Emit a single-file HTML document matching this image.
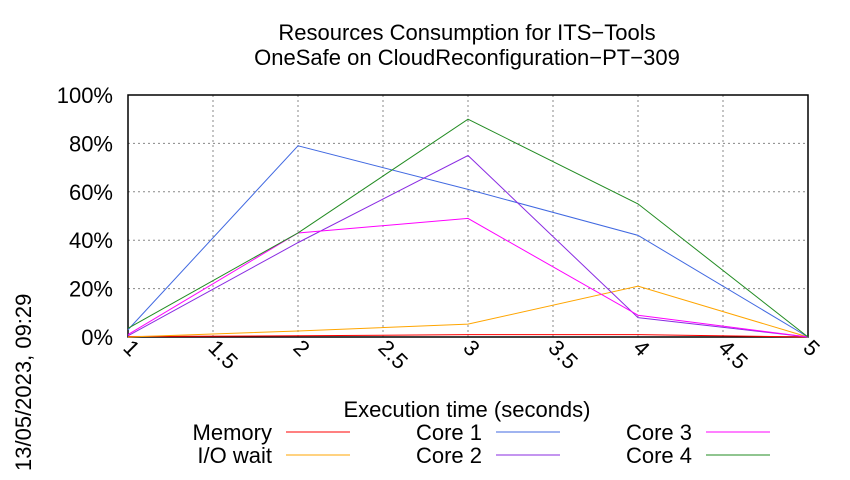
<!DOCTYPE html>
<html><head><meta charset="utf-8"><style>
body{margin:0;background:#fff;font-family:"Liberation Sans",sans-serif}
svg text{font-family:"Liberation Sans",sans-serif;fill:#000}
</style></head><body>
<svg id="chart" width="850" height="475" viewBox="0 0 850 475">
<text x="467" y="40" font-size="22" text-anchor="middle">Resources Consumption for ITS−Tools</text>
<text x="467" y="65" font-size="22" text-anchor="middle">OneSafe on CloudReconfiguration−PT−309</text>
<text x="467" y="417" font-size="22" text-anchor="middle">Execution time (seconds)</text>
<text transform="translate(31,471) rotate(-90)" font-size="22">13/05/2023, 09:29</text>
<g id="grid"></g><g id="series"></g><g id="legend"></g>
</svg>
<script>
const xTicks=[1,1.5,2,2.5,3,3.5,4,4.5,5];
const yTicks=[0,20,40,60,80,100];
const times=[1,2,3,4,5];
const names=["Memory","I/O wait","Core 1","Core 2","Core 3","Core 4"];
const colors=["#ff0000","#ffa500","#4169e1","#8a2be2","#ff00ff","#228b22"];
const memory=[0.2,0.5,1,1,0];
const iowait=[0,2.5,5.3,21,0];
const core1=[3,79,61,42,0];
const core2=[0.5,39,75,8,0];
const core3=[1,43,49,9,0];
const core4=[3.6,43,90,55,0];
const seriesData=[memory,iowait,core1,core2,core3,core4];
const L=128,R=808,T=95,B=337;
const sx=v=>L+(v-1)/(5-1)*(R-L);
const sy=v=>B-v/100*(B-T);
const NS="http://www.w3.org/2000/svg";
function mk(t,a,p){const e=document.createElementNS(NS,t);for(const k in a)e.setAttribute(k,a[k]);p.appendChild(e);return e;}
const g=document.getElementById('grid');
xTicks.forEach(v=>{
 const l=mk('line',{x1:sx(v),x2:sx(v),y1:T,y2:B,stroke:'#888','stroke-dasharray':'2,3'},g);
 
 
 const t=mk('text',{x:sx(v)-6,y:B+12,'font-size':22,transform:`rotate(45 ${sx(v)-6} ${B+12})`},g);
 t.textContent=v;
 
 
});
yTicks.forEach(v=>{
 const l=mk('line',{x1:L,x2:R,y1:sy(v),y2:sy(v),stroke:'#888','stroke-dasharray':'2,3'},g);
 
 
 const t=mk('text',{x:L-15,y:sy(v)+8,'font-size':22,'text-anchor':'end'},g);
 t.textContent=v+'%';
 
 
});
const fr=mk('rect',{x:L,y:T,width:R-L,height:B-T,fill:'none',stroke:'#000','stroke-width':1.5},g);


const s=document.getElementById('series');
seriesData.forEach((d,i)=>{
 const p=mk('polyline',{points:d.map((v,j)=>sx(times[j])+','+sy(v)).join(' '),fill:'none',stroke:colors[i],'stroke-width':1},s);
 
 
});
const lg=document.getElementById('legend');
const colX=[272,482,692],rowY=[432,455];
names.forEach((n,i)=>{
 const c=Math.floor(i/2),r=i%2;
 const t=mk('text',{x:colX[c],y:rowY[r]+8,'font-size':22,'text-anchor':'end'},lg);
 t.textContent=n;
 
 
 const l=mk('line',{x1:colX[c]+14,x2:colX[c]+78,y1:rowY[r],y2:rowY[r],stroke:colors[i],'stroke-width':1},lg);
 
 
});
</script>
</body></html>
